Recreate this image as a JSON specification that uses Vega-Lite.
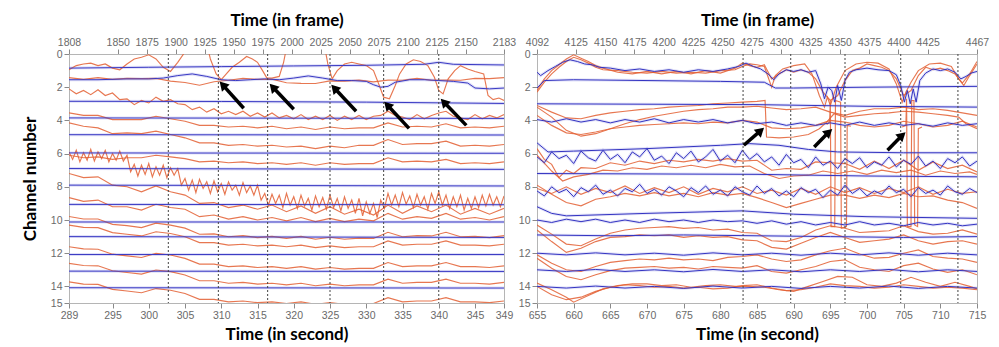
{
"$schema": "https://vega.github.io/schema/vega-lite/v6.json",
"background": "white",
"padding": {"left": 20, "top": 10, "right": 5, "bottom": 2},
"spacing": 33,
"bounds": "flush",
"config": {
 "view": {"stroke": "#b5b5b5"},
 "axis": {"labelFont": "Liberation Sans", "labelFontSize": 10.5, "labelColor": "#6a6a6a", "tickColor": "#8a8a8a", "domainColor": "#b5b5b5", "grid": false, "titleFont": "Lato", "titleFontWeight": "bold", "titleFontSize": 17, "titleColor": "#000000", "tickSize": 5, "labelPadding": 2, "labelOverlap": false, "labelFlush": false}
},
"datasets": {
"lf": [{"f": 1808}, {"f": 2183}],
"rf": [{"f": 4092}, {"f": 4467}],
"ld": [{"t": 302.7}, {"t": 309.6}, {"t": 316.4}, {"t": 325.0}, {"t": 332.4}, {"t": 340.0}],
"rd": [{"t": 683.1}, {"t": 689.6}, {"t": 697.0}, {"t": 704.6}, {"t": 712.4}],
"la": [
 {"t1": 313.1, "c1": 3.27, "t2": 310.2, "c2": 1.86},
 {"t1": 320.0, "c1": 3.33, "t2": 317.1, "c2": 1.99},
 {"t1": 328.6, "c1": 3.45, "t2": 325.6, "c2": 2.05},
 {"t1": 335.9, "c1": 4.48, "t2": 332.9, "c2": 3.07},
 {"t1": 343.8, "c1": 4.30, "t2": 340.7, "c2": 2.89}
],
"ra": [
 {"t1": 683.2, "c1": 5.5, "t2": 685.5, "c2": 4.62},
 {"t1": 692.8, "c1": 5.6, "t2": 694.8, "c2": 4.7},
 {"t1": 702.8, "c1": 5.8, "t2": 704.8, "c2": 4.9}
],
"lb": [
 {"s":"B1","t":289,"c":0.85},{"s":"B1","t":300,"c":0.8},{"s":"B1","t":310,"c":0.76},{"s":"B1","t":320,"c":0.72},{"s":"B1","t":330,"c":0.68},{"s":"B1","t":338,"c":0.62},{"s":"B1","t":340,"c":0.5},{"s":"B1","t":342,"c":0.62},{"s":"B1","t":349,"c":0.66},
 {"s":"B2","t":289,"c":1.55},{"s":"B2","t":293,"c":1.55},{"s":"B2","t":297,"c":1.5},{"s":"B2","t":300,"c":1.5},{"s":"B2","t":302,"c":1.45},{"s":"B2","t":304,"c":1.3},{"s":"B2","t":306,"c":1.2},{"s":"B2","t":308,"c":1.35},{"s":"B2","t":310,"c":1.55},{"s":"B2","t":312,"c":1.6},{"s":"B2","t":314,"c":1.55},{"s":"B2","t":316,"c":1.5},{"s":"B2","t":318,"c":1.55},{"s":"B2","t":320,"c":1.45},{"s":"B2","t":322,"c":1.32},{"s":"B2","t":324,"c":1.45},{"s":"B2","t":326,"c":1.6},{"s":"B2","t":328,"c":1.6},{"s":"B2","t":330,"c":1.65},{"s":"B2","t":331,"c":1.85},{"s":"B2","t":332,"c":2.0},{"s":"B2","t":333,"c":1.95},{"s":"B2","t":334,"c":1.7},{"s":"B2","t":336,"c":1.55},{"s":"B2","t":338,"c":1.55},{"s":"B2","t":340,"c":1.6},{"s":"B2","t":342,"c":1.65},{"s":"B2","t":344,"c":1.75},{"s":"B2","t":345,"c":2.05},{"s":"B2","t":347,"c":2.1},{"s":"B2","t":349,"c":2.05},
 {"s":"B3","t":289,"c":2.85},{"s":"B3","t":310,"c":2.86},{"s":"B3","t":330,"c":2.9},{"s":"B3","t":349,"c":2.98},
 {"s":"B4","t":289,"c":3.85},{"s":"B4","t":349,"c":3.88},
 {"s":"B5","t":289,"c":4.86},{"s":"B5","t":349,"c":4.88},
 {"s":"B6","t":289,"c":5.96},{"s":"B6","t":349,"c":5.98},
 {"s":"B7","t":289,"c":6.9},{"s":"B7","t":349,"c":6.95},
 {"s":"B8","t":289,"c":7.9},{"s":"B8","t":349,"c":7.95},
 {"s":"B9","t":289,"c":9.06},{"s":"B9","t":349,"c":9.08},
 {"s":"B10","t":289,"c":10.12},{"s":"B10","t":349,"c":10.12},
 {"s":"B11","t":289,"c":11.0},{"s":"B11","t":349,"c":11.05},
 {"s":"B12","t":289,"c":12.08},{"s":"B12","t":349,"c":12.08},
 {"s":"B13","t":289,"c":13.08},{"s":"B13","t":349,"c":13.1},
 {"s":"B14","t":289,"c":14.08},{"s":"B14","t":349,"c":14.1}
],
"lr": [
 {"s":"a","t":289,"c":0.95},{"s":"a","t":290,"c":0.7},{"s":"a","t":291,"c":0.6},{"s":"a","t":292,"c":0.55},{"s":"a","t":293,"c":0.7},{"s":"a","t":294,"c":0.6},{"s":"a","t":295,"c":0.85},{"s":"a","t":296,"c":0.95},{"s":"a","t":297,"c":0.6},{"s":"a","t":298,"c":0.3},{"s":"a","t":299,"c":0.2},{"s":"a","t":300,"c":0.05},{"s":"a","t":301,"c":0.3},{"s":"a","t":302,"c":0.8},{"s":"a","t":303,"c":1.05},{"s":"a","t":304,"c":0.5},{"s":"a","t":304.8,"c":0.0},{"s":"a","t":305.3,"c":-0.6},{"s":"a","t":308,"c":-0.6},{"s":"a","t":308.5,"c":0.3},{"s":"a","t":309.3,"c":1.2},{"s":"a","t":310,"c":1.55},{"s":"a","t":310.7,"c":1.2},{"s":"a","t":311.5,"c":0.8},{"s":"a","t":312.5,"c":0.5},{"s":"a","t":313.5,"c":0.15},{"s":"a","t":314.3,"c":0.3},{"s":"a","t":315,"c":0.5},{"s":"a","t":315.7,"c":1.0},{"s":"a","t":316.3,"c":1.45},{"s":"a","t":317,"c":1.45},{"s":"a","t":318,"c":1.35},{"s":"a","t":318.6,"c":0.5},{"s":"a","t":319.1,"c":-0.6},{"s":"a","t":324.2,"c":-0.6},{"s":"a","t":324.7,"c":0.6},{"s":"a","t":325.3,"c":1.5},{"s":"a","t":326,"c":1.0},{"s":"a","t":327,"c":0.6},{"s":"a","t":328,"c":0.5},{"s":"a","t":329,"c":0.6},{"s":"a","t":330,"c":0.7},{"s":"a","t":331,"c":1.0},{"s":"a","t":331.8,"c":1.9},{"s":"a","t":332.4,"c":2.6},{"s":"a","t":333.2,"c":2.7},{"s":"a","t":334,"c":1.9},{"s":"a","t":334.6,"c":1.2},{"s":"a","t":335.5,"c":0.6},{"s":"a","t":336.5,"c":0.35},{"s":"a","t":337.5,"c":0.45},{"s":"a","t":338.5,"c":0.7},{"s":"a","t":339.4,"c":1.4},{"s":"a","t":340,"c":2.2},{"s":"a","t":340.6,"c":2.4},{"s":"a","t":341.3,"c":1.5},{"s":"a","t":342.2,"c":1.0},{"s":"a","t":343,"c":0.7},{"s":"a","t":344,"c":0.9},{"s":"a","t":345,"c":1.05},{"s":"a","t":346.2,"c":1.2},{"s":"a","t":346.8,"c":2.5},{"s":"a","t":347.5,"c":2.75},{"s":"a","t":348.3,"c":2.65},{"s":"a","t":349,"c":2.8},
 {"s":"b","t":289,"c":1.42},{"s":"b","t":291,"c":1.53},{"s":"b","t":293,"c":1.42},{"s":"b","t":295,"c":1.53},{"s":"b","t":297,"c":1.47},{"s":"b","t":299,"c":1.48},{"s":"b","t":301,"c":1.47},{"s":"b","t":303,"c":1.63},{"s":"b","t":305,"c":1.72},{"s":"b","t":307,"c":1.88},{"s":"b","t":309,"c":1.67},{"s":"b","t":311,"c":1.58},{"s":"b","t":313,"c":1.47},{"s":"b","t":315,"c":1.53},{"s":"b","t":317,"c":1.52},{"s":"b","t":319,"c":1.73},{"s":"b","t":321,"c":1.77},{"s":"b","t":323,"c":1.78},{"s":"b","t":325,"c":1.62},{"s":"b","t":327,"c":1.63},{"s":"b","t":329,"c":1.57},{"s":"b","t":331,"c":1.68},{"s":"b","t":333,"c":1.57},{"s":"b","t":335,"c":1.58},{"s":"b","t":337,"c":1.47},{"s":"b","t":339,"c":1.58},{"s":"b","t":341,"c":1.57},{"s":"b","t":343,"c":1.58},{"s":"b","t":345,"c":1.47},{"s":"b","t":347,"c":1.48},{"s":"b","t":349,"c":1.42},
 {"s":"c","t":289,"c":2.1},{"s":"c","t":290,"c":2.4},{"s":"c","t":291,"c":2.2},{"s":"c","t":292,"c":2.45},{"s":"c","t":293,"c":2.15},{"s":"c","t":294,"c":2.5},{"s":"c","t":295,"c":2.35},{"s":"c","t":296,"c":2.75},{"s":"c","t":297,"c":2.7},{"s":"c","t":298,"c":3.05},{"s":"c","t":299,"c":2.8},{"s":"c","t":300,"c":2.95},{"s":"c","t":301,"c":2.6},{"s":"c","t":302,"c":2.85},{"s":"c","t":303,"c":2.75},{"s":"c","t":304,"c":3.0},{"s":"c","t":305,"c":3.05},{"s":"c","t":306,"c":3.35},{"s":"c","t":307,"c":3.2},{"s":"c","t":308,"c":3.5},{"s":"c","t":309,"c":3.3},{"s":"c","t":310,"c":3.6},{"s":"c","t":311,"c":3.45},{"s":"c","t":312,"c":3.65},{"s":"c","t":313,"c":3.45},{"s":"c","t":314,"c":3.75},{"s":"c","t":315,"c":3.55},{"s":"c","t":316,"c":3.8},{"s":"c","t":317,"c":3.55},{"s":"c","t":318,"c":3.85},{"s":"c","t":319,"c":3.7},{"s":"c","t":320,"c":3.9},{"s":"c","t":321,"c":3.65},{"s":"c","t":322,"c":3.95},{"s":"c","t":323,"c":3.75},{"s":"c","t":324,"c":3.95},{"s":"c","t":325,"c":3.7},{"s":"c","t":326,"c":4.0},{"s":"c","t":327,"c":3.75},{"s":"c","t":328,"c":3.95},{"s":"c","t":329,"c":3.7},{"s":"c","t":330,"c":3.95},{"s":"c","t":331,"c":3.75},{"s":"c","t":332,"c":3.7},{"s":"c","t":333,"c":3.45},{"s":"c","t":334,"c":3.7},{"s":"c","t":335,"c":3.8},{"s":"c","t":336,"c":3.95},{"s":"c","t":337,"c":3.65},{"s":"c","t":338,"c":3.9},{"s":"c","t":339,"c":3.7},{"s":"c","t":340,"c":3.55},{"s":"c","t":341,"c":3.45},{"s":"c","t":342,"c":3.75},{"s":"c","t":343,"c":3.85},{"s":"c","t":344,"c":3.95},{"s":"c","t":345,"c":3.65},{"s":"c","t":346,"c":3.9},{"s":"c","t":347,"c":3.7},{"s":"c","t":348,"c":3.85},{"s":"c","t":349,"c":3.65},
 {"s":"d","t":289,"c":3.55},{"s":"d","t":291,"c":3.7},{"s":"d","t":293,"c":3.7},{"s":"d","t":295,"c":3.95},{"s":"d","t":297,"c":3.95},{"s":"d","t":299,"c":3.95},{"s":"d","t":301,"c":3.75},{"s":"d","t":303,"c":3.9},{"s":"d","t":305,"c":4.05},{"s":"d","t":307,"c":4.3},{"s":"d","t":309,"c":4.3},{"s":"d","t":311,"c":4.4},{"s":"d","t":313,"c":4.35},{"s":"d","t":315,"c":4.45},{"s":"d","t":317,"c":4.35},{"s":"d","t":319,"c":4.5},{"s":"d","t":321,"c":4.4},{"s":"d","t":323,"c":4.55},{"s":"d","t":325,"c":4.4},{"s":"d","t":327,"c":4.5},{"s":"d","t":329,"c":4.45},{"s":"d","t":331,"c":4.45},{"s":"d","t":333,"c":4.15},{"s":"d","t":335,"c":4.4},{"s":"d","t":337,"c":4.35},{"s":"d","t":339,"c":4.4},{"s":"d","t":341,"c":4.2},{"s":"d","t":343,"c":4.45},{"s":"d","t":345,"c":4.4},{"s":"d","t":347,"c":4.45},{"s":"d","t":349,"c":4.35},
 {"s":"e","t":289,"c":4.15},{"s":"e","t":291,"c":4.35},{"s":"e","t":293,"c":4.45},{"s":"e","t":295,"c":4.8},{"s":"e","t":297,"c":4.75},{"s":"e","t":299,"c":4.8},{"s":"e","t":301,"c":4.65},{"s":"e","t":303,"c":4.85},{"s":"e","t":305,"c":5.05},{"s":"e","t":307,"c":5.35},{"s":"e","t":309,"c":5.35},{"s":"e","t":311,"c":5.5},{"s":"e","t":313,"c":5.45},{"s":"e","t":315,"c":5.55},{"s":"e","t":317,"c":5.5},{"s":"e","t":319,"c":5.6},{"s":"e","t":321,"c":5.55},{"s":"e","t":323,"c":5.7},{"s":"e","t":325,"c":5.55},{"s":"e","t":327,"c":5.65},{"s":"e","t":329,"c":5.5},{"s":"e","t":331,"c":5.5},{"s":"e","t":333,"c":5.15},{"s":"e","t":335,"c":5.45},{"s":"e","t":337,"c":5.4},{"s":"e","t":339,"c":5.4},{"s":"e","t":341,"c":5.25},{"s":"e","t":343,"c":5.55},{"s":"e","t":345,"c":5.5},{"s":"e","t":347,"c":5.55},{"s":"e","t":349,"c":5.45},
 {"s":"f","t":289,"c":5.9},{"s":"f","t":289.5,"c":6.35},{"s":"f","t":290,"c":5.8},{"s":"f","t":290.5,"c":6.5},{"s":"f","t":291,"c":5.95},{"s":"f","t":291.5,"c":6.4},{"s":"f","t":292,"c":5.75},{"s":"f","t":292.5,"c":6.45},{"s":"f","t":293,"c":5.9},{"s":"f","t":293.5,"c":6.3},{"s":"f","t":294,"c":5.8},{"s":"f","t":294.5,"c":6.5},{"s":"f","t":295,"c":6.0},{"s":"f","t":295.5,"c":6.4},{"s":"f","t":296,"c":5.85},{"s":"f","t":296.5,"c":6.45},{"s":"f","t":297,"c":6.1},{"s":"f","t":297.5,"c":7.1},{"s":"f","t":298,"c":6.65},{"s":"f","t":298.5,"c":7.35},{"s":"f","t":299,"c":6.7},{"s":"f","t":299.5,"c":7.25},{"s":"f","t":300,"c":6.6},{"s":"f","t":300.5,"c":7.4},{"s":"f","t":301,"c":6.8},{"s":"f","t":301.5,"c":7.3},{"s":"f","t":302,"c":6.7},{"s":"f","t":302.5,"c":7.45},{"s":"f","t":303,"c":6.85},{"s":"f","t":303.5,"c":7.3},{"s":"f","t":304,"c":6.9},{"s":"f","t":304.5,"c":7.9},{"s":"f","t":305,"c":7.5},{"s":"f","t":305.5,"c":8.2},{"s":"f","t":306,"c":7.6},{"s":"f","t":306.5,"c":8.35},{"s":"f","t":307,"c":7.55},{"s":"f","t":307.5,"c":8.1},{"s":"f","t":308,"c":7.7},{"s":"f","t":308.5,"c":8.4},{"s":"f","t":309,"c":7.65},{"s":"f","t":309.5,"c":8.3},{"s":"f","t":310,"c":7.8},{"s":"f","t":310.5,"c":8.45},{"s":"f","t":311,"c":7.7},{"s":"f","t":311.5,"c":8.2},{"s":"f","t":312,"c":7.9},{"s":"f","t":312.5,"c":8.5},{"s":"f","t":313,"c":7.75},{"s":"f","t":313.5,"c":8.35},{"s":"f","t":314,"c":7.95},{"s":"f","t":314.5,"c":8.5},{"s":"f","t":315,"c":7.9},{"s":"f","t":315.5,"c":8.8},{"s":"f","t":316,"c":8.4},{"s":"f","t":316.5,"c":9.1},{"s":"f","t":317,"c":8.45},{"s":"f","t":317.5,"c":9.0},{"s":"f","t":318,"c":8.5},{"s":"f","t":318.5,"c":9.25},{"s":"f","t":319,"c":8.4},{"s":"f","t":319.5,"c":9.1},{"s":"f","t":320,"c":8.6},{"s":"f","t":320.5,"c":9.3},{"s":"f","t":321,"c":8.5},{"s":"f","t":321.5,"c":9.15},{"s":"f","t":322,"c":8.7},{"s":"f","t":322.5,"c":9.4},{"s":"f","t":323,"c":8.55},{"s":"f","t":323.5,"c":9.2},{"s":"f","t":324,"c":8.65},{"s":"f","t":324.5,"c":9.35},{"s":"f","t":325,"c":8.5},{"s":"f","t":325.5,"c":9.25},{"s":"f","t":326,"c":8.7},{"s":"f","t":326.5,"c":9.45},{"s":"f","t":327,"c":8.6},{"s":"f","t":327.5,"c":9.3},{"s":"f","t":328,"c":8.8},{"s":"f","t":328.5,"c":9.6},{"s":"f","t":329,"c":8.7},{"s":"f","t":329.5,"c":9.75},{"s":"f","t":330,"c":8.9},{"s":"f","t":330.5,"c":9.6},{"s":"f","t":331,"c":9.0},{"s":"f","t":331.5,"c":9.85},{"s":"f","t":332,"c":8.8},{"s":"f","t":332.5,"c":9.3},{"s":"f","t":333,"c":8.4},{"s":"f","t":333.5,"c":9.1},{"s":"f","t":334,"c":8.5},{"s":"f","t":334.5,"c":9.2},{"s":"f","t":335,"c":8.35},{"s":"f","t":335.5,"c":9.05},{"s":"f","t":336,"c":8.55},{"s":"f","t":336.5,"c":9.25},{"s":"f","t":337,"c":8.45},{"s":"f","t":337.5,"c":9.1},{"s":"f","t":338,"c":8.6},{"s":"f","t":338.5,"c":9.35},{"s":"f","t":339,"c":8.4},{"s":"f","t":339.5,"c":9.0},{"s":"f","t":340,"c":8.3},{"s":"f","t":340.5,"c":9.1},{"s":"f","t":341,"c":8.5},{"s":"f","t":341.5,"c":9.3},{"s":"f","t":342,"c":8.6},{"s":"f","t":342.5,"c":9.2},{"s":"f","t":343,"c":8.5},{"s":"f","t":343.5,"c":9.4},{"s":"f","t":344,"c":8.7},{"s":"f","t":344.5,"c":9.3},{"s":"f","t":345,"c":8.6},{"s":"f","t":345.5,"c":9.25},{"s":"f","t":346,"c":8.5},{"s":"f","t":346.5,"c":9.15},{"s":"f","t":347,"c":8.45},{"s":"f","t":347.5,"c":9.1},{"s":"f","t":348,"c":8.6},{"s":"f","t":348.5,"c":9.2},{"s":"f","t":349,"c":8.55},
 {"s":"g","t":289,"c":7.2},{"s":"g","t":291,"c":7.45},{"s":"g","t":293,"c":7.4},{"s":"g","t":295,"c":7.9},{"s":"g","t":297,"c":8.0},{"s":"g","t":299,"c":8.3},{"s":"g","t":301,"c":7.95},{"s":"g","t":303,"c":8.3},{"s":"g","t":305,"c":8.5},{"s":"g","t":307,"c":9.0},{"s":"g","t":309,"c":8.95},{"s":"g","t":311,"c":9.25},{"s":"g","t":313,"c":9.1},{"s":"g","t":315,"c":9.35},{"s":"g","t":317,"c":9.1},{"s":"g","t":319,"c":9.5},{"s":"g","t":321,"c":9.15},{"s":"g","t":323,"c":9.6},{"s":"g","t":325,"c":9.2},{"s":"g","t":327,"c":9.65},{"s":"g","t":329,"c":9.35},{"s":"g","t":331,"c":9.7},{"s":"g","t":333,"c":9.1},{"s":"g","t":335,"c":9.6},{"s":"g","t":337,"c":9.15},{"s":"g","t":339,"c":9.5},{"s":"g","t":341,"c":9.1},{"s":"g","t":343,"c":9.65},{"s":"g","t":345,"c":9.3},{"s":"g","t":347,"c":9.65},{"s":"g","t":349,"c":9.3},
 {"s":"h","t":289,"c":6.1},{"s":"h","t":291,"c":6.25},{"s":"h","t":293,"c":6.2},{"s":"h","t":295,"c":6.35},{"s":"h","t":297,"c":6.25},{"s":"h","t":299,"c":6.25},{"s":"h","t":301,"c":6.1},{"s":"h","t":303,"c":6.2},{"s":"h","t":305,"c":6.3},{"s":"h","t":307,"c":6.5},{"s":"h","t":309,"c":6.45},{"s":"h","t":311,"c":6.55},{"s":"h","t":313,"c":6.5},{"s":"h","t":315,"c":6.6},{"s":"h","t":317,"c":6.55},{"s":"h","t":319,"c":6.65},{"s":"h","t":321,"c":6.55},{"s":"h","t":323,"c":6.7},{"s":"h","t":325,"c":6.55},{"s":"h","t":327,"c":6.65},{"s":"h","t":329,"c":6.6},{"s":"h","t":331,"c":6.6},{"s":"h","t":333,"c":6.25},{"s":"h","t":335,"c":6.5},{"s":"h","t":337,"c":6.45},{"s":"h","t":339,"c":6.5},{"s":"h","t":341,"c":6.35},{"s":"h","t":343,"c":6.6},{"s":"h","t":345,"c":6.55},{"s":"h","t":347,"c":6.6},{"s":"h","t":349,"c":6.5},
 {"s":"o","t":289,"c":8.65},{"s":"o","t":291,"c":8.88},{"s":"o","t":293,"c":8.8},{"s":"o","t":295,"c":9.2},{"s":"o","t":297,"c":9.2},{"s":"o","t":299,"c":9.4},{"s":"o","t":301,"c":9.05},{"s":"o","t":303,"c":9.25},{"s":"o","t":305,"c":9.35},{"s":"o","t":307,"c":9.8},{"s":"o","t":309,"c":9.7},{"s":"o","t":311,"c":9.95},{"s":"o","t":313,"c":9.8},{"s":"o","t":315,"c":10.0},{"s":"o","t":317,"c":9.85},{"s":"o","t":319,"c":10.05},{"s":"o","t":321,"c":9.85},{"s":"o","t":323,"c":10.1},{"s":"o","t":325,"c":9.9},{"s":"o","t":327,"c":10.1},{"s":"o","t":329,"c":9.95},{"s":"o","t":331,"c":10.05},{"s":"o","t":333,"c":9.6},{"s":"o","t":335,"c":9.95},{"s":"o","t":337,"c":9.8},{"s":"o","t":339,"c":9.9},{"s":"o","t":341,"c":9.6},{"s":"o","t":343,"c":9.95},{"s":"o","t":345,"c":9.85},{"s":"o","t":347,"c":10.0},{"s":"o","t":349,"c":9.8},
 {"s":"i","t":289,"c":9.79},{"s":"i","t":291,"c":9.94},{"s":"i","t":293,"c":9.94},{"s":"i","t":295,"c":10.26},{"s":"i","t":297,"c":10.34},{"s":"i","t":299,"c":10.46},{"s":"i","t":301,"c":10.19},{"s":"i","t":303,"c":10.31},{"s":"i","t":305,"c":10.49},{"s":"i","t":307,"c":10.86},{"s":"i","t":309,"c":10.84},{"s":"i","t":311,"c":11.01},{"s":"i","t":313,"c":10.94},{"s":"i","t":315,"c":11.06},{"s":"i","t":317,"c":10.99},{"s":"i","t":319,"c":11.11},{"s":"i","t":321,"c":10.99},{"s":"i","t":323,"c":11.16},{"s":"i","t":325,"c":11.04},{"s":"i","t":327,"c":11.16},{"s":"i","t":329,"c":11.09},{"s":"i","t":331,"c":11.11},{"s":"i","t":333,"c":10.74},{"s":"i","t":335,"c":11.01},{"s":"i","t":337,"c":10.94},{"s":"i","t":339,"c":10.96},{"s":"i","t":341,"c":10.74},{"s":"i","t":343,"c":11.01},{"s":"i","t":345,"c":10.99},{"s":"i","t":347,"c":11.06},{"s":"i","t":349,"c":10.94},
 {"s":"j","t":289,"c":10.31},{"s":"j","t":291,"c":10.44},{"s":"j","t":293,"c":10.46},{"s":"j","t":295,"c":10.76},{"s":"j","t":297,"c":10.86},{"s":"j","t":299,"c":10.96},{"s":"j","t":301,"c":10.71},{"s":"j","t":303,"c":10.81},{"s":"j","t":305,"c":11.01},{"s":"j","t":307,"c":11.36},{"s":"j","t":309,"c":11.36},{"s":"j","t":311,"c":11.51},{"s":"j","t":313,"c":11.46},{"s":"j","t":315,"c":11.56},{"s":"j","t":317,"c":11.51},{"s":"j","t":319,"c":11.61},{"s":"j","t":321,"c":11.51},{"s":"j","t":323,"c":11.66},{"s":"j","t":325,"c":11.56},{"s":"j","t":327,"c":11.66},{"s":"j","t":329,"c":11.61},{"s":"j","t":331,"c":11.61},{"s":"j","t":333,"c":11.26},{"s":"j","t":335,"c":11.51},{"s":"j","t":337,"c":11.46},{"s":"j","t":339,"c":11.46},{"s":"j","t":341,"c":11.26},{"s":"j","t":343,"c":11.51},{"s":"j","t":345,"c":11.51},{"s":"j","t":347,"c":11.56},{"s":"j","t":349,"c":11.46},
 {"s":"l","t":289,"c":11.61},{"s":"l","t":291,"c":11.74},{"s":"l","t":293,"c":11.76},{"s":"l","t":295,"c":12.06},{"s":"l","t":297,"c":12.16},{"s":"l","t":299,"c":12.26},{"s":"l","t":301,"c":12.01},{"s":"l","t":303,"c":12.11},{"s":"l","t":305,"c":12.31},{"s":"l","t":307,"c":12.66},{"s":"l","t":309,"c":12.66},{"s":"l","t":311,"c":12.81},{"s":"l","t":313,"c":12.76},{"s":"l","t":315,"c":12.86},{"s":"l","t":317,"c":12.81},{"s":"l","t":319,"c":12.91},{"s":"l","t":321,"c":12.81},{"s":"l","t":323,"c":12.96},{"s":"l","t":325,"c":12.86},{"s":"l","t":327,"c":12.96},{"s":"l","t":329,"c":12.91},{"s":"l","t":331,"c":12.91},{"s":"l","t":333,"c":12.56},{"s":"l","t":335,"c":12.81},{"s":"l","t":337,"c":12.76},{"s":"l","t":339,"c":12.76},{"s":"l","t":341,"c":12.56},{"s":"l","t":343,"c":12.81},{"s":"l","t":345,"c":12.81},{"s":"l","t":347,"c":12.86},{"s":"l","t":349,"c":12.76},
 {"s":"m","t":289,"c":12.61},{"s":"m","t":291,"c":12.74},{"s":"m","t":293,"c":12.76},{"s":"m","t":295,"c":13.06},{"s":"m","t":297,"c":13.16},{"s":"m","t":299,"c":13.26},{"s":"m","t":301,"c":13.01},{"s":"m","t":303,"c":13.11},{"s":"m","t":305,"c":13.31},{"s":"m","t":307,"c":13.66},{"s":"m","t":309,"c":13.66},{"s":"m","t":311,"c":13.81},{"s":"m","t":313,"c":13.76},{"s":"m","t":315,"c":13.86},{"s":"m","t":317,"c":13.81},{"s":"m","t":319,"c":13.91},{"s":"m","t":321,"c":13.81},{"s":"m","t":323,"c":13.96},{"s":"m","t":325,"c":13.86},{"s":"m","t":327,"c":13.96},{"s":"m","t":329,"c":13.91},{"s":"m","t":331,"c":13.91},{"s":"m","t":333,"c":13.56},{"s":"m","t":335,"c":13.81},{"s":"m","t":337,"c":13.76},{"s":"m","t":339,"c":13.76},{"s":"m","t":341,"c":13.56},{"s":"m","t":343,"c":13.81},{"s":"m","t":345,"c":13.81},{"s":"m","t":347,"c":13.86},{"s":"m","t":349,"c":13.76},
 {"s":"n","t":289,"c":13.73},{"s":"n","t":291,"c":13.86},{"s":"n","t":293,"c":13.88},{"s":"n","t":295,"c":14.18},{"s":"n","t":297,"c":14.28},{"s":"n","t":299,"c":14.38},{"s":"n","t":301,"c":14.13},{"s":"n","t":303,"c":14.23},{"s":"n","t":305,"c":14.43},{"s":"n","t":307,"c":14.78},{"s":"n","t":309,"c":14.78},{"s":"n","t":311,"c":14.93},{"s":"n","t":313,"c":14.88},{"s":"n","t":315,"c":14.98},{"s":"n","t":317,"c":14.93},{"s":"n","t":319,"c":15.03},{"s":"n","t":321,"c":14.93},{"s":"n","t":323,"c":15.08},{"s":"n","t":325,"c":14.98},{"s":"n","t":327,"c":15.08},{"s":"n","t":329,"c":15.03},{"s":"n","t":331,"c":15.03},{"s":"n","t":333,"c":14.68},{"s":"n","t":335,"c":14.93},{"s":"n","t":337,"c":14.88},{"s":"n","t":339,"c":14.88},{"s":"n","t":341,"c":14.68},{"s":"n","t":343,"c":14.93},{"s":"n","t":345,"c":14.93},{"s":"n","t":347,"c":14.98},{"s":"n","t":349,"c":14.88}
],
"rb": [
 {"s":"P1","t":655,"c":1.1},{"s":"P1","t":655.5,"c":1.3},{"s":"P1","t":656.5,"c":1.0},{"s":"P1","t":657.5,"c":0.75},{"s":"P1","t":658.5,"c":0.5},{"s":"P1","t":659.5,"c":0.35},{"s":"P1","t":660.5,"c":0.45},{"s":"P1","t":661.5,"c":0.6},{"s":"P1","t":662.5,"c":0.65},{"s":"P1","t":663.5,"c":0.8},{"s":"P1","t":665,"c":0.85},{"s":"P1","t":667,"c":1.0},{"s":"P1","t":669,"c":0.9},{"s":"P1","t":671,"c":1.05},{"s":"P1","t":673,"c":0.95},{"s":"P1","t":675,"c":1.1},{"s":"P1","t":677,"c":0.95},{"s":"P1","t":679,"c":1.05},{"s":"P1","t":681,"c":0.9},{"s":"P1","t":682.5,"c":0.75},{"s":"P1","t":683.5,"c":0.55},{"s":"P1","t":684.5,"c":0.75},{"s":"P1","t":685.5,"c":0.9},{"s":"P1","t":686.5,"c":1.2},{"s":"P1","t":687.3,"c":1.55},{"s":"P1","t":688,"c":1.2},{"s":"P1","t":689,"c":0.95},{"s":"P1","t":690,"c":1.05},{"s":"P1","t":691,"c":0.95},{"s":"P1","t":692,"c":1.1},{"s":"P1","t":693,"c":1.0},{"s":"P1","t":693.7,"c":1.8},{"s":"P1","t":694.2,"c":2.7},{"s":"P1","t":694.7,"c":2.0},{"s":"P1","t":695.2,"c":2.2},{"s":"P1","t":695.6,"c":2.9},{"s":"P1","t":696,"c":1.9},{"s":"P1","t":696.5,"c":2.8},{"s":"P1","t":697,"c":1.6},{"s":"P1","t":697.6,"c":1.1},{"s":"P1","t":698.5,"c":0.95},{"s":"P1","t":700,"c":0.85},{"s":"P1","t":701.5,"c":0.95},{"s":"P1","t":703,"c":1.0},{"s":"P1","t":704,"c":1.25},{"s":"P1","t":704.6,"c":1.9},{"s":"P1","t":705.1,"c":2.9},{"s":"P1","t":705.5,"c":2.2},{"s":"P1","t":705.9,"c":3.0},{"s":"P1","t":706.3,"c":2.1},{"s":"P1","t":706.7,"c":2.9},{"s":"P1","t":707.2,"c":1.6},{"s":"P1","t":708,"c":1.15},{"s":"P1","t":709,"c":0.9},{"s":"P1","t":710,"c":1.0},{"s":"P1","t":711,"c":0.9},{"s":"P1","t":712,"c":1.1},{"s":"P1","t":712.8,"c":1.5},{"s":"P1","t":713.5,"c":1.35},{"s":"P1","t":714.2,"c":1.15},{"s":"P1","t":715,"c":1.05},
 {"s":"P2","t":655,"c":2.05},{"s":"P2","t":656,"c":1.6},{"s":"P2","t":660,"c":1.55},{"s":"P2","t":670,"c":1.6},{"s":"P2","t":680,"c":1.65},{"s":"P2","t":686,"c":1.7},{"s":"P2","t":687.5,"c":2.05},{"s":"P2","t":690,"c":2.05},{"s":"P2","t":700,"c":2.0},{"s":"P2","t":715,"c":1.95},
 {"s":"P3","t":655,"c":3.0},{"s":"P3","t":685,"c":3.05},{"s":"P3","t":700,"c":3.15},{"s":"P3","t":715,"c":3.2},
 {"s":"P4","t":655,"c":3.95},{"s":"P4","t":657,"c":4.1},{"s":"P4","t":659,"c":3.9},{"s":"P4","t":661,"c":4.1},{"s":"P4","t":663,"c":3.95},{"s":"P4","t":665,"c":4.15},{"s":"P4","t":667,"c":3.95},{"s":"P4","t":669,"c":4.1},{"s":"P4","t":671,"c":3.9},{"s":"P4","t":673,"c":4.15},{"s":"P4","t":675,"c":3.95},{"s":"P4","t":677,"c":4.1},{"s":"P4","t":679,"c":3.95},{"s":"P4","t":681,"c":4.15},{"s":"P4","t":683,"c":4.0},{"s":"P4","t":685,"c":4.2},{"s":"P4","t":687,"c":4.1},{"s":"P4","t":689,"c":4.3},{"s":"P4","t":691,"c":4.15},{"s":"P4","t":693,"c":4.3},{"s":"P4","t":695,"c":4.15},{"s":"P4","t":697,"c":4.3},{"s":"P4","t":699,"c":4.1},{"s":"P4","t":701,"c":4.3},{"s":"P4","t":703,"c":4.15},{"s":"P4","t":705,"c":4.3},{"s":"P4","t":707,"c":4.2},{"s":"P4","t":709,"c":4.35},{"s":"P4","t":711,"c":4.15},{"s":"P4","t":713,"c":4.3},{"s":"P4","t":715,"c":4.2},
 {"s":"P5","t":655,"c":5.35},{"s":"P5","t":656.5,"c":5.9},{"s":"P5","t":660,"c":5.85},{"s":"P5","t":670,"c":5.7},{"s":"P5","t":680,"c":5.5},{"s":"P5","t":684,"c":5.4},{"s":"P5","t":688,"c":5.5},{"s":"P5","t":692,"c":5.75},{"s":"P5","t":696,"c":5.9},{"s":"P5","t":705,"c":5.95},{"s":"P5","t":715,"c":5.95},
 {"s":"P6","t":655,"c":6.2},{"s":"P6","t":656,"c":6.55},{"s":"P6","t":657,"c":5.9},{"s":"P6","t":658,"c":6.3},{"s":"P6","t":659,"c":6.1},{"s":"P6","t":660,"c":6.6},{"s":"P6","t":661,"c":5.85},{"s":"P6","t":662,"c":6.25},{"s":"P6","t":663,"c":6.45},{"s":"P6","t":664,"c":5.8},{"s":"P6","t":665,"c":6.35},{"s":"P6","t":666,"c":6.05},{"s":"P6","t":667,"c":6.55},{"s":"P6","t":668,"c":5.9},{"s":"P6","t":669,"c":6.2},{"s":"P6","t":670,"c":5.7},{"s":"P6","t":671,"c":6.4},{"s":"P6","t":672,"c":6.15},{"s":"P6","t":673,"c":6.6},{"s":"P6","t":674,"c":5.95},{"s":"P6","t":675,"c":6.3},{"s":"P6","t":676,"c":5.85},{"s":"P6","t":677,"c":6.5},{"s":"P6","t":678,"c":6.2},{"s":"P6","t":679,"c":5.75},{"s":"P6","t":680,"c":6.45},{"s":"P6","t":681,"c":6.1},{"s":"P6","t":682,"c":6.55},{"s":"P6","t":683,"c":5.8},{"s":"P6","t":684,"c":6.35},{"s":"P6","t":685,"c":6.0},{"s":"P6","t":686,"c":6.5},{"s":"P6","t":687,"c":6.2},{"s":"P6","t":688,"c":6.7},{"s":"P6","t":689,"c":6.05},{"s":"P6","t":690,"c":6.55},{"s":"P6","t":691,"c":6.35},{"s":"P6","t":692,"c":6.85},{"s":"P6","t":693,"c":6.2},{"s":"P6","t":694,"c":6.7},{"s":"P6","t":695,"c":6.45},{"s":"P6","t":696,"c":6.9},{"s":"P6","t":697,"c":6.3},{"s":"P6","t":698,"c":6.6},{"s":"P6","t":699,"c":6.25},{"s":"P6","t":700,"c":6.85},{"s":"P6","t":701,"c":6.5},{"s":"P6","t":702,"c":6.7},{"s":"P6","t":703,"c":6.2},{"s":"P6","t":704,"c":6.8},{"s":"P6","t":705,"c":6.4},{"s":"P6","t":706,"c":6.65},{"s":"P6","t":707,"c":6.15},{"s":"P6","t":708,"c":6.75},{"s":"P6","t":709,"c":6.45},{"s":"P6","t":710,"c":6.9},{"s":"P6","t":711,"c":6.3},{"s":"P6","t":712,"c":6.55},{"s":"P6","t":713,"c":6.2},{"s":"P6","t":714,"c":6.75},{"s":"P6","t":715,"c":6.45},
 {"s":"P7","t":655,"c":7.2},{"s":"P7","t":685,"c":7.25},{"s":"P7","t":700,"c":7.35},{"s":"P7","t":715,"c":7.4},
 {"s":"P8","t":655,"c":8.25},{"s":"P8","t":656,"c":8.55},{"s":"P8","t":657,"c":8.0},{"s":"P8","t":658,"c":8.35},{"s":"P8","t":659,"c":8.15},{"s":"P8","t":660,"c":8.6},{"s":"P8","t":661,"c":8.05},{"s":"P8","t":662,"c":8.3},{"s":"P8","t":663,"c":7.9},{"s":"P8","t":664,"c":8.45},{"s":"P8","t":665,"c":8.2},{"s":"P8","t":666,"c":8.55},{"s":"P8","t":667,"c":8.1},{"s":"P8","t":668,"c":8.3},{"s":"P8","t":669,"c":7.85},{"s":"P8","t":670,"c":8.4},{"s":"P8","t":671,"c":8.15},{"s":"P8","t":672,"c":8.5},{"s":"P8","t":673,"c":8.0},{"s":"P8","t":674,"c":8.25},{"s":"P8","t":675,"c":8.6},{"s":"P8","t":676,"c":8.05},{"s":"P8","t":677,"c":8.35},{"s":"P8","t":678,"c":7.95},{"s":"P8","t":679,"c":8.45},{"s":"P8","t":680,"c":8.2},{"s":"P8","t":681,"c":8.55},{"s":"P8","t":682,"c":8.0},{"s":"P8","t":683,"c":8.3},{"s":"P8","t":684,"c":8.5},{"s":"P8","t":685,"c":7.95},{"s":"P8","t":686,"c":8.4},{"s":"P8","t":687,"c":8.1},{"s":"P8","t":688,"c":8.55},{"s":"P8","t":689,"c":8.25},{"s":"P8","t":690,"c":8.6},{"s":"P8","t":691,"c":8.05},{"s":"P8","t":692,"c":8.35},{"s":"P8","t":693,"c":8.15},{"s":"P8","t":694,"c":8.65},{"s":"P8","t":695,"c":8.2},{"s":"P8","t":696,"c":8.5},{"s":"P8","t":697,"c":7.9},{"s":"P8","t":698,"c":8.4},{"s":"P8","t":699,"c":8.1},{"s":"P8","t":700,"c":8.55},{"s":"P8","t":701,"c":8.25},{"s":"P8","t":702,"c":8.45},{"s":"P8","t":703,"c":7.95},{"s":"P8","t":704,"c":8.35},{"s":"P8","t":705,"c":8.15},{"s":"P8","t":706,"c":8.6},{"s":"P8","t":707,"c":8.05},{"s":"P8","t":708,"c":8.4},{"s":"P8","t":709,"c":8.2},{"s":"P8","t":710,"c":8.5},{"s":"P8","t":711,"c":7.95},{"s":"P8","t":712,"c":8.3},{"s":"P8","t":713,"c":8.45},{"s":"P8","t":714,"c":8.1},{"s":"P8","t":715,"c":8.35},
 {"s":"P9","t":655,"c":9.2},{"s":"P9","t":657,"c":9.6},{"s":"P9","t":659,"c":9.75},{"s":"P9","t":670,"c":9.6},{"s":"P9","t":683,"c":9.45},{"s":"P9","t":690,"c":9.65},{"s":"P9","t":700,"c":9.8},{"s":"P9","t":715,"c":9.9},
 {"s":"P10","t":655,"c":10.0},{"s":"P10","t":657,"c":10.15},{"s":"P10","t":659,"c":9.95},{"s":"P10","t":661,"c":10.1},{"s":"P10","t":663,"c":9.95},{"s":"P10","t":665,"c":10.15},{"s":"P10","t":667,"c":10.0},{"s":"P10","t":669,"c":10.15},{"s":"P10","t":671,"c":9.95},{"s":"P10","t":673,"c":10.1},{"s":"P10","t":675,"c":10.0},{"s":"P10","t":677,"c":10.15},{"s":"P10","t":679,"c":10.0},{"s":"P10","t":681,"c":10.1},{"s":"P10","t":683,"c":10.05},{"s":"P10","t":685,"c":10.2},{"s":"P10","t":687,"c":10.05},{"s":"P10","t":689,"c":10.25},{"s":"P10","t":691,"c":10.1},{"s":"P10","t":693,"c":10.3},{"s":"P10","t":695,"c":10.15},{"s":"P10","t":697,"c":10.3},{"s":"P10","t":699,"c":10.1},{"s":"P10","t":701,"c":10.3},{"s":"P10","t":703,"c":10.2},{"s":"P10","t":705,"c":10.35},{"s":"P10","t":707,"c":10.15},{"s":"P10","t":709,"c":10.3},{"s":"P10","t":711,"c":10.2},{"s":"P10","t":713,"c":10.35},{"s":"P10","t":715,"c":10.25},
 {"s":"P11","t":655,"c":10.9},{"s":"P11","t":665,"c":10.95},{"s":"P11","t":675,"c":10.9},{"s":"P11","t":685,"c":10.95},{"s":"P11","t":695,"c":11.0},{"s":"P11","t":705,"c":11.05},{"s":"P11","t":715,"c":11.0},
 {"s":"P12","t":655,"c":12.0},{"s":"P12","t":659,"c":12.1},{"s":"P12","t":663,"c":11.98},{"s":"P12","t":667,"c":12.1},{"s":"P12","t":671,"c":12.0},{"s":"P12","t":675,"c":12.12},{"s":"P12","t":679,"c":11.98},{"s":"P12","t":683,"c":12.1},{"s":"P12","t":687,"c":12.0},{"s":"P12","t":691,"c":12.12},{"s":"P12","t":695,"c":12.0},{"s":"P12","t":699,"c":12.1},{"s":"P12","t":703,"c":11.98},{"s":"P12","t":707,"c":12.12},{"s":"P12","t":711,"c":12.0},{"s":"P12","t":715,"c":12.1},
 {"s":"P13","t":655,"c":13.0},{"s":"P13","t":659,"c":13.1},{"s":"P13","t":663,"c":12.98},{"s":"P13","t":667,"c":13.1},{"s":"P13","t":671,"c":13.0},{"s":"P13","t":675,"c":13.12},{"s":"P13","t":679,"c":12.98},{"s":"P13","t":683,"c":13.1},{"s":"P13","t":687,"c":13.0},{"s":"P13","t":691,"c":13.12},{"s":"P13","t":695,"c":13.0},{"s":"P13","t":699,"c":13.1},{"s":"P13","t":703,"c":12.98},{"s":"P13","t":707,"c":13.12},{"s":"P13","t":711,"c":13.0},{"s":"P13","t":715,"c":13.1},
 {"s":"P14","t":655,"c":14.0},{"s":"P14","t":659,"c":14.1},{"s":"P14","t":663,"c":13.98},{"s":"P14","t":667,"c":14.1},{"s":"P14","t":671,"c":14.0},{"s":"P14","t":675,"c":14.12},{"s":"P14","t":679,"c":13.98},{"s":"P14","t":683,"c":14.1},{"s":"P14","t":687,"c":14.0},{"s":"P14","t":691,"c":14.12},{"s":"P14","t":695,"c":14.0},{"s":"P14","t":699,"c":14.1},{"s":"P14","t":703,"c":13.98},{"s":"P14","t":707,"c":14.12},{"s":"P14","t":711,"c":14.0},{"s":"P14","t":715,"c":14.1}
],
"rr": [
 {"s":"Q1","t":655,"c":2.2},{"s":"Q1","t":656,"c":1.5},{"s":"Q1","t":657,"c":1.0},{"s":"Q1","t":658,"c":0.65},{"s":"Q1","t":659,"c":0.3},{"s":"Q1","t":660,"c":0.05},{"s":"Q1","t":661,"c":0.25},{"s":"Q1","t":662,"c":0.45},{"s":"Q1","t":663,"c":0.7},{"s":"Q1","t":664,"c":0.85},{"s":"Q1","t":666,"c":1.1},{"s":"Q1","t":668,"c":1.2},{"s":"Q1","t":670,"c":1.05},{"s":"Q1","t":672,"c":1.2},{"s":"Q1","t":674,"c":1.05},{"s":"Q1","t":676,"c":1.2},{"s":"Q1","t":678,"c":1.0},{"s":"Q1","t":680,"c":1.15},{"s":"Q1","t":682,"c":0.85},{"s":"Q1","t":683,"c":0.55},{"s":"Q1","t":684,"c":0.7},{"s":"Q1","t":685,"c":0.8},{"s":"Q1","t":686,"c":0.65},{"s":"Q1","t":687,"c":1.5},{"s":"Q1","t":688,"c":1.2},{"s":"Q1","t":689,"c":0.95},{"s":"Q1","t":690,"c":1.1},{"s":"Q1","t":691,"c":0.95},{"s":"Q1","t":692,"c":1.1},{"s":"Q1","t":693,"c":1.5},{"s":"Q1","t":694,"c":2.3},{"s":"Q1","t":695,"c":2.8},{"s":"Q1","t":696,"c":2.5},{"s":"Q1","t":697,"c":1.6},{"s":"Q1","t":698,"c":1.0},{"s":"Q1","t":699,"c":0.85},{"s":"Q1","t":700,"c":0.6},{"s":"Q1","t":701,"c":0.7},{"s":"Q1","t":702,"c":0.8},{"s":"Q1","t":703,"c":1.0},{"s":"Q1","t":704,"c":1.5},{"s":"Q1","t":705,"c":2.5},{"s":"Q1","t":706,"c":2.2},{"s":"Q1","t":707,"c":1.3},{"s":"Q1","t":708,"c":0.8},{"s":"Q1","t":709,"c":0.95},{"s":"Q1","t":710,"c":0.85},{"s":"Q1","t":711,"c":1.0},{"s":"Q1","t":712,"c":1.2},{"s":"Q1","t":713,"c":1.75},{"s":"Q1","t":714,"c":1.2},{"s":"Q1","t":715,"c":0.45},
 {"s":"Q1b","t":655,"c":2.3},{"s":"Q1b","t":656,"c":1.7},{"s":"Q1b","t":657,"c":1.2},{"s":"Q1b","t":658,"c":0.8},{"s":"Q1b","t":659,"c":0.45},{"s":"Q1b","t":660,"c":0.2},{"s":"Q1b","t":661,"c":0.35},{"s":"Q1b","t":662,"c":0.55},{"s":"Q1b","t":663,"c":0.8},{"s":"Q1b","t":664,"c":0.95},{"s":"Q1b","t":666,"c":1.0},{"s":"Q1b","t":668,"c":1.1},{"s":"Q1b","t":670,"c":1.15},{"s":"Q1b","t":672,"c":1.05},{"s":"Q1b","t":674,"c":1.15},{"s":"Q1b","t":676,"c":1.1},{"s":"Q1b","t":678,"c":1.15},{"s":"Q1b","t":680,"c":1.0},{"s":"Q1b","t":682,"c":0.95},{"s":"Q1b","t":683,"c":0.75},{"s":"Q1b","t":684,"c":0.6},{"s":"Q1b","t":685,"c":0.65},{"s":"Q1b","t":686,"c":0.75},{"s":"Q1b","t":687,"c":2.0},{"s":"Q1b","t":687.5,"c":1.3},{"s":"Q1b","t":688.5,"c":0.9},{"s":"Q1b","t":690,"c":0.7},{"s":"Q1b","t":691.5,"c":0.6},{"s":"Q1b","t":692.5,"c":1.2},{"s":"Q1b","t":693.5,"c":2.5},{"s":"Q1b","t":694.2,"c":3.2},{"s":"Q1b","t":694.6,"c":2.6},{"s":"Q1b","t":695,"c":3.1},{"s":"Q1b","t":695.8,"c":2.0},{"s":"Q1b","t":697,"c":1.0},{"s":"Q1b","t":698.5,"c":0.6},{"s":"Q1b","t":700,"c":0.5},{"s":"Q1b","t":701.5,"c":0.55},{"s":"Q1b","t":703,"c":0.9},{"s":"Q1b","t":704,"c":1.8},{"s":"Q1b","t":704.8,"c":2.9},{"s":"Q1b","t":705.3,"c":2.3},{"s":"Q1b","t":706,"c":1.7},{"s":"Q1b","t":707,"c":1.0},{"s":"Q1b","t":708.5,"c":0.6},{"s":"Q1b","t":710,"c":0.55},{"s":"Q1b","t":711.5,"c":0.75},{"s":"Q1b","t":712.5,"c":1.5},{"s":"Q1b","t":713.2,"c":1.9},{"s":"Q1b","t":714,"c":1.3},{"s":"Q1b","t":715,"c":0.6},
 {"s":"Q2","t":655,"c":3.1},{"s":"Q2","t":657,"c":3.5},{"s":"Q2","t":659,"c":3.85},{"s":"Q2","t":661,"c":3.9},{"s":"Q2","t":663,"c":3.7},{"s":"Q2","t":665,"c":3.55},{"s":"Q2","t":667,"c":3.45},{"s":"Q2","t":669,"c":3.35},{"s":"Q2","t":671,"c":3.3},{"s":"Q2","t":673,"c":3.2},{"s":"Q2","t":675,"c":3.15},{"s":"Q2","t":677,"c":3.1},{"s":"Q2","t":679,"c":3.0},{"s":"Q2","t":681,"c":2.95},{"s":"Q2","t":683,"c":2.9},{"s":"Q2","t":685,"c":2.85},{"s":"Q2","t":686.1,"c":2.8},{"s":"Q2","t":686.3,"c":5.0},{"s":"Q2","t":688,"c":5.05},{"s":"Q2","t":690,"c":5.0},{"s":"Q2","t":692,"c":4.85},{"s":"Q2","t":693.5,"c":4.5},{"s":"Q2","t":694.5,"c":4.1},{"s":"Q2","t":695.5,"c":3.6},{"s":"Q2","t":697,"c":3.8},{"s":"Q2","t":699,"c":3.7},{"s":"Q2","t":701,"c":3.6},{"s":"Q2","t":703,"c":3.55},{"s":"Q2","t":705,"c":3.45},{"s":"Q2","t":707,"c":3.5},{"s":"Q2","t":709,"c":3.6},{"s":"Q2","t":711,"c":3.7},{"s":"Q2","t":712.5,"c":3.8},{"s":"Q2","t":713.5,"c":4.2},{"s":"Q2","t":715,"c":4.5},
 {"s":"Q3","t":655,"c":3.2},{"s":"Q3","t":657,"c":3.8},{"s":"Q3","t":659,"c":4.6},{"s":"Q3","t":661,"c":4.95},{"s":"Q3","t":663,"c":4.8},{"s":"Q3","t":665,"c":4.5},{"s":"Q3","t":667,"c":4.2},{"s":"Q3","t":669,"c":3.95},{"s":"Q3","t":671,"c":3.75},{"s":"Q3","t":673,"c":3.6},{"s":"Q3","t":675,"c":3.45},{"s":"Q3","t":677,"c":3.35},{"s":"Q3","t":679,"c":3.3},{"s":"Q3","t":681,"c":3.2},{"s":"Q3","t":683,"c":3.2},{"s":"Q3","t":685,"c":3.15},{"s":"Q3","t":687,"c":3.25},{"s":"Q3","t":689,"c":3.35},{"s":"Q3","t":691,"c":3.3},{"s":"Q3","t":693,"c":3.2},{"s":"Q3","t":695,"c":3.5},{"s":"Q3","t":697,"c":3.7},{"s":"Q3","t":699,"c":3.45},{"s":"Q3","t":701,"c":3.3},{"s":"Q3","t":703,"c":3.3},{"s":"Q3","t":705,"c":3.2},{"s":"Q3","t":707,"c":3.35},{"s":"Q3","t":709,"c":3.3},{"s":"Q3","t":711,"c":3.4},{"s":"Q3","t":713,"c":3.55},{"s":"Q3","t":715,"c":3.7},
 {"s":"Q4","t":655,"c":3.7},{"s":"Q4","t":657,"c":4.3},{"s":"Q4","t":659,"c":4.75},{"s":"Q4","t":661,"c":4.85},{"s":"Q4","t":663,"c":4.7},{"s":"Q4","t":665,"c":4.5},{"s":"Q4","t":667,"c":4.4},{"s":"Q4","t":669,"c":4.3},{"s":"Q4","t":671,"c":4.25},{"s":"Q4","t":673,"c":4.2},{"s":"Q4","t":675,"c":4.15},{"s":"Q4","t":677,"c":4.2},{"s":"Q4","t":679,"c":4.1},{"s":"Q4","t":681,"c":4.15},{"s":"Q4","t":683,"c":4.0},{"s":"Q4","t":685,"c":4.1},{"s":"Q4","t":687,"c":4.45},{"s":"Q4","t":689,"c":4.5},{"s":"Q4","t":691,"c":4.45},{"s":"Q4","t":693,"c":4.3},{"s":"Q4","t":695,"c":4.0},{"s":"Q4","t":697,"c":4.1},{"s":"Q4","t":699,"c":4.3},{"s":"Q4","t":701,"c":4.4},{"s":"Q4","t":703,"c":4.3},{"s":"Q4","t":705,"c":4.05},{"s":"Q4","t":707,"c":4.2},{"s":"Q4","t":709,"c":4.4},{"s":"Q4","t":711,"c":4.3},{"s":"Q4","t":713,"c":4.05},{"s":"Q4","t":715,"c":4.4},
 {"s":"S1","t":694.5,"c":4.25},{"s":"S1","t":694.9,"c":4.1},{"s":"S1","t":695.0,"c":2.8},{"s":"S1","t":695.1,"c":10.4},{"s":"S1","t":695.6,"c":10.4},{"s":"S1","t":695.7,"c":2.8},{"s":"S1","t":696.4,"c":2.9},{"s":"S1","t":696.5,"c":10.5},{"s":"S1","t":697.2,"c":10.4},{"s":"S1","t":697.3,"c":4.3},{"s":"S1","t":697.8,"c":4.35},
 {"s":"S2","t":704.8,"c":4.4},{"s":"S2","t":705.3,"c":4.3},{"s":"S2","t":705.4,"c":2.7},{"s":"S2","t":705.5,"c":10.4},{"s":"S2","t":706.0,"c":10.4},{"s":"S2","t":706.1,"c":2.8},{"s":"S2","t":706.4,"c":2.8},{"s":"S2","t":706.5,"c":10.3},{"s":"S2","t":706.9,"c":10.4},{"s":"S2","t":707.0,"c":4.5},{"s":"S2","t":707.5,"c":4.4},
 {"s":"M1","t":655,"c":5.7},{"s":"M1","t":656,"c":6.35},{"s":"M1","t":657,"c":6.65},{"s":"M1","t":658,"c":7.45},{"s":"M1","t":659,"c":7.0},{"s":"M1","t":660,"c":7.2},{"s":"M1","t":661,"c":6.85},{"s":"M1","t":663,"c":6.9},{"s":"M1","t":665,"c":6.55},{"s":"M1","t":667,"c":6.7},{"s":"M1","t":669,"c":6.45},{"s":"M1","t":671,"c":6.6},{"s":"M1","t":673,"c":6.4},{"s":"M1","t":675,"c":6.5},{"s":"M1","t":677,"c":6.35},{"s":"M1","t":679,"c":6.45},{"s":"M1","t":681,"c":6.3},{"s":"M1","t":683,"c":6.45},{"s":"M1","t":685,"c":6.4},{"s":"M1","t":687,"c":7.0},{"s":"M1","t":689,"c":6.9},{"s":"M1","t":691,"c":6.95},{"s":"M1","t":693,"c":6.5},{"s":"M1","t":695,"c":6.55},{"s":"M1","t":697,"c":6.6},{"s":"M1","t":699,"c":6.95},{"s":"M1","t":701,"c":6.45},{"s":"M1","t":703,"c":6.9},{"s":"M1","t":705,"c":6.4},{"s":"M1","t":707,"c":7.0},{"s":"M1","t":709,"c":6.5},{"s":"M1","t":711,"c":6.9},{"s":"M1","t":713,"c":6.7},{"s":"M1","t":715,"c":7.1},
 {"s":"M2","t":655,"c":6.1},{"s":"M2","t":657,"c":7.05},{"s":"M2","t":658.5,"c":7.65},{"s":"M2","t":660,"c":7.4},{"s":"M2","t":662,"c":7.25},{"s":"M2","t":664,"c":7.0},{"s":"M2","t":666,"c":7.05},{"s":"M2","t":668,"c":6.85},{"s":"M2","t":670,"c":6.95},{"s":"M2","t":672,"c":6.75},{"s":"M2","t":674,"c":6.85},{"s":"M2","t":676,"c":6.7},{"s":"M2","t":678,"c":6.85},{"s":"M2","t":680,"c":6.65},{"s":"M2","t":682,"c":6.8},{"s":"M2","t":684,"c":6.75},{"s":"M2","t":686,"c":7.2},{"s":"M2","t":688,"c":7.5},{"s":"M2","t":690,"c":7.35},{"s":"M2","t":692,"c":7.3},{"s":"M2","t":694,"c":7.05},{"s":"M2","t":696,"c":7.2},{"s":"M2","t":698,"c":7.05},{"s":"M2","t":700,"c":7.25},{"s":"M2","t":702,"c":7.0},{"s":"M2","t":704,"c":7.15},{"s":"M2","t":706,"c":7.0},{"s":"M2","t":708,"c":7.3},{"s":"M2","t":710,"c":7.05},{"s":"M2","t":712,"c":7.2},{"s":"M2","t":714,"c":7.1},{"s":"M2","t":715,"c":7.25},
 {"s":"M3","t":655,"c":7.9},{"s":"M3","t":657,"c":8.45},{"s":"M3","t":659,"c":8.95},{"s":"M3","t":661,"c":9.15},{"s":"M3","t":663,"c":8.75},{"s":"M3","t":665,"c":8.6},{"s":"M3","t":667,"c":8.4},{"s":"M3","t":669,"c":8.55},{"s":"M3","t":671,"c":8.35},{"s":"M3","t":673,"c":8.55},{"s":"M3","t":675,"c":8.4},{"s":"M3","t":677,"c":8.6},{"s":"M3","t":679,"c":8.35},{"s":"M3","t":681,"c":8.5},{"s":"M3","t":683,"c":8.4},{"s":"M3","t":685,"c":8.65},{"s":"M3","t":687,"c":8.95},{"s":"M3","t":689,"c":9.25},{"s":"M3","t":691,"c":9.0},{"s":"M3","t":693,"c":8.75},{"s":"M3","t":695,"c":8.5},{"s":"M3","t":697,"c":8.5},{"s":"M3","t":699,"c":8.7},{"s":"M3","t":701,"c":8.5},{"s":"M3","t":703,"c":8.65},{"s":"M3","t":705,"c":8.4},{"s":"M3","t":707,"c":8.6},{"s":"M3","t":709,"c":8.55},{"s":"M3","t":711,"c":8.8},{"s":"M3","t":713,"c":8.95},{"s":"M3","t":715,"c":9.3},
 {"s":"M4","t":655,"c":8.1},{"s":"M4","t":657,"c":8.4},{"s":"M4","t":659,"c":8.0},{"s":"M4","t":661,"c":8.45},{"s":"M4","t":663,"c":8.1},{"s":"M4","t":665,"c":8.35},{"s":"M4","t":667,"c":7.95},{"s":"M4","t":669,"c":8.4},{"s":"M4","t":671,"c":8.05},{"s":"M4","t":673,"c":8.35},{"s":"M4","t":675,"c":8.0},{"s":"M4","t":677,"c":8.45},{"s":"M4","t":679,"c":8.1},{"s":"M4","t":681,"c":8.3},{"s":"M4","t":683,"c":8.0},{"s":"M4","t":685,"c":8.4},{"s":"M4","t":687,"c":8.2},{"s":"M4","t":689,"c":8.5},{"s":"M4","t":691,"c":8.1},{"s":"M4","t":693,"c":8.45},{"s":"M4","t":695,"c":8.0},{"s":"M4","t":697,"c":8.35},{"s":"M4","t":699,"c":8.05},{"s":"M4","t":701,"c":8.4},{"s":"M4","t":703,"c":8.1},{"s":"M4","t":705,"c":8.35},{"s":"M4","t":707,"c":8.0},{"s":"M4","t":709,"c":8.45},{"s":"M4","t":711,"c":8.15},{"s":"M4","t":713,"c":8.4},{"s":"M4","t":715,"c":8.3},
 {"s":"U1","t":655,"c":10.3},{"s":"U1","t":657,"c":10.85},{"s":"U1","t":659,"c":11.45},{"s":"U1","t":661,"c":11.55},{"s":"U1","t":663,"c":11.15},{"s":"U1","t":665,"c":10.8},{"s":"U1","t":667,"c":10.6},{"s":"U1","t":669,"c":10.5},{"s":"U1","t":671,"c":10.45},{"s":"U1","t":673,"c":10.4},{"s":"U1","t":675,"c":10.5},{"s":"U1","t":677,"c":10.45},{"s":"U1","t":679,"c":10.6},{"s":"U1","t":681,"c":10.55},{"s":"U1","t":683,"c":10.75},{"s":"U1","t":685,"c":10.8},{"s":"U1","t":687,"c":11.25},{"s":"U1","t":689,"c":11.3},{"s":"U1","t":691,"c":11.05},{"s":"U1","t":693,"c":10.6},{"s":"U1","t":695,"c":10.35},{"s":"U1","t":697,"c":10.5},{"s":"U1","t":699,"c":10.75},{"s":"U1","t":701,"c":10.7},{"s":"U1","t":703,"c":10.65},{"s":"U1","t":705,"c":10.35},{"s":"U1","t":707,"c":10.7},{"s":"U1","t":709,"c":10.85},{"s":"U1","t":711,"c":10.8},{"s":"U1","t":713,"c":10.6},{"s":"U1","t":715,"c":10.85},
 {"s":"U2","t":655,"c":10.6},{"s":"U2","t":657,"c":11.3},{"s":"U2","t":659,"c":11.95},{"s":"U2","t":661,"c":11.7},{"s":"U2","t":663,"c":11.3},{"s":"U2","t":665,"c":11.05},{"s":"U2","t":667,"c":11.0},{"s":"U2","t":669,"c":10.9},{"s":"U2","t":671,"c":10.95},{"s":"U2","t":673,"c":10.9},{"s":"U2","t":675,"c":11.05},{"s":"U2","t":677,"c":10.95},{"s":"U2","t":679,"c":11.05},{"s":"U2","t":681,"c":11.0},{"s":"U2","t":683,"c":11.2},{"s":"U2","t":685,"c":11.25},{"s":"U2","t":687,"c":11.65},{"s":"U2","t":689,"c":11.75},{"s":"U2","t":691,"c":11.4},{"s":"U2","t":693,"c":11.05},{"s":"U2","t":695,"c":10.75},{"s":"U2","t":697,"c":11.05},{"s":"U2","t":699,"c":11.35},{"s":"U2","t":701,"c":11.25},{"s":"U2","t":703,"c":11.15},{"s":"U2","t":705,"c":10.9},{"s":"U2","t":707,"c":11.25},{"s":"U2","t":709,"c":11.45},{"s":"U2","t":711,"c":11.3},{"s":"U2","t":713,"c":11.25},{"s":"U2","t":715,"c":11.45},
 {"s":"U3","t":655,"c":12.1},{"s":"U3","t":657,"c":12.6},{"s":"U3","t":659,"c":13.0},{"s":"U3","t":661,"c":13.1},{"s":"U3","t":663,"c":12.8},{"s":"U3","t":665,"c":12.55},{"s":"U3","t":667,"c":12.45},{"s":"U3","t":669,"c":12.35},{"s":"U3","t":671,"c":12.4},{"s":"U3","t":673,"c":12.3},{"s":"U3","t":675,"c":12.4},{"s":"U3","t":677,"c":12.35},{"s":"U3","t":679,"c":12.45},{"s":"U3","t":681,"c":12.25},{"s":"U3","t":683,"c":12.2},{"s":"U3","t":685,"c":12.1},{"s":"U3","t":687,"c":12.35},{"s":"U3","t":689,"c":12.5},{"s":"U3","t":691,"c":12.4},{"s":"U3","t":693,"c":12.1},{"s":"U3","t":695,"c":11.85},{"s":"U3","t":697,"c":11.7},{"s":"U3","t":699,"c":12.05},{"s":"U3","t":701,"c":12.3},{"s":"U3","t":703,"c":12.25},{"s":"U3","t":705,"c":12.0},{"s":"U3","t":707,"c":11.8},{"s":"U3","t":709,"c":12.2},{"s":"U3","t":711,"c":12.3},{"s":"U3","t":713,"c":12.35},{"s":"U3","t":715,"c":12.55},
 {"s":"U4","t":655,"c":12.3},{"s":"U4","t":657,"c":12.9},{"s":"U4","t":659,"c":13.4},{"s":"U4","t":661,"c":13.6},{"s":"U4","t":663,"c":13.3},{"s":"U4","t":665,"c":13.05},{"s":"U4","t":667,"c":12.9},{"s":"U4","t":669,"c":12.85},{"s":"U4","t":671,"c":12.8},{"s":"U4","t":673,"c":12.9},{"s":"U4","t":675,"c":12.85},{"s":"U4","t":677,"c":12.95},{"s":"U4","t":679,"c":12.8},{"s":"U4","t":681,"c":12.85},{"s":"U4","t":683,"c":12.9},{"s":"U4","t":685,"c":12.75},{"s":"U4","t":687,"c":13.1},{"s":"U4","t":689,"c":13.2},{"s":"U4","t":691,"c":13.0},{"s":"U4","t":693,"c":12.8},{"s":"U4","t":695,"c":12.5},{"s":"U4","t":697,"c":12.4},{"s":"U4","t":699,"c":12.85},{"s":"U4","t":701,"c":13.0},{"s":"U4","t":703,"c":13.1},{"s":"U4","t":705,"c":12.75},{"s":"U4","t":707,"c":12.6},{"s":"U4","t":709,"c":12.95},{"s":"U4","t":711,"c":13.15},{"s":"U4","t":713,"c":13.0},{"s":"U4","t":715,"c":13.3},
 {"s":"U5","t":655,"c":13.8},{"s":"U5","t":657,"c":14.2},{"s":"U5","t":659,"c":14.65},{"s":"U5","t":660,"c":14.95},{"s":"U5","t":662,"c":14.55},{"s":"U5","t":664,"c":14.15},{"s":"U5","t":666,"c":13.95},{"s":"U5","t":668,"c":13.85},{"s":"U5","t":670,"c":13.85},{"s":"U5","t":672,"c":13.95},{"s":"U5","t":674,"c":13.9},{"s":"U5","t":676,"c":14.05},{"s":"U5","t":678,"c":13.95},{"s":"U5","t":680,"c":13.9},{"s":"U5","t":682,"c":14.0},{"s":"U5","t":684,"c":14.0},{"s":"U5","t":686,"c":14.05},{"s":"U5","t":688,"c":14.2},{"s":"U5","t":690,"c":14.3},{"s":"U5","t":692,"c":14.0},{"s":"U5","t":694,"c":13.7},{"s":"U5","t":696,"c":13.4},{"s":"U5","t":698,"c":13.45},{"s":"U5","t":700,"c":13.9},{"s":"U5","t":702,"c":14.0},{"s":"U5","t":704,"c":13.8},{"s":"U5","t":706,"c":13.45},{"s":"U5","t":708,"c":13.75},{"s":"U5","t":710,"c":14.0},{"s":"U5","t":712,"c":13.75},{"s":"U5","t":714,"c":14.0},{"s":"U5","t":715,"c":14.15},
 {"s":"U6","t":655,"c":14.0},{"s":"U6","t":657,"c":14.5},{"s":"U6","t":659,"c":14.8},{"s":"U6","t":661,"c":14.65},{"s":"U6","t":663,"c":14.3},{"s":"U6","t":665,"c":14.05},{"s":"U6","t":667,"c":13.9},{"s":"U6","t":669,"c":13.95},{"s":"U6","t":671,"c":14.05},{"s":"U6","t":673,"c":14.0},{"s":"U6","t":675,"c":14.1},{"s":"U6","t":677,"c":14.05},{"s":"U6","t":679,"c":14.15},{"s":"U6","t":681,"c":14.1},{"s":"U6","t":683,"c":13.95},{"s":"U6","t":685,"c":13.9},{"s":"U6","t":687,"c":14.1},{"s":"U6","t":689,"c":14.25},{"s":"U6","t":691,"c":14.2},{"s":"U6","t":693,"c":14.05},{"s":"U6","t":695,"c":13.85},{"s":"U6","t":697,"c":13.95},{"s":"U6","t":699,"c":14.0},{"s":"U6","t":701,"c":14.1},{"s":"U6","t":703,"c":14.05},{"s":"U6","t":705,"c":13.9},{"s":"U6","t":707,"c":14.0},{"s":"U6","t":709,"c":14.1},{"s":"U6","t":711,"c":14.05},{"s":"U6","t":713,"c":14.1},{"s":"U6","t":715,"c":14.2}
]
},
"hconcat": [
 {
  "width": 435, "height": 249,
  "layer": [
   {"layer": [
     {"data": {"name": "lb"}, "mark": {"type": "line", "color": "#aeb0ea", "strokeWidth": 3, "opacity": 0.4, "clip": true},
      "encoding": {
       "x": {"field": "t", "type": "quantitative", "scale": {"domain": [289, 349], "nice": false, "zero": false}, "axis": {"values": [289,295,300,305,310,315,320,325,330,335,340,345,349], "title": "Time (in second)", "titlePadding": 6}},
       "y": {"field": "c", "type": "quantitative", "scale": {"domain": [0, 15], "reverse": true, "nice": false, "zero": false}, "axis": {"values": [0,2,4,6,8,10,12,14,15], "title": "Channel number", "titlePadding": 11}},
       "detail": {"field": "s"}}},
     {"data": {"name": "lr"}, "mark": {"type": "line", "color": "#e35f32", "strokeWidth": 1.15, "opacity": 0.85, "clip": true},
      "encoding": {
       "x": {"field": "t", "type": "quantitative", "axis": {"values": [289,295,300,305,310,315,320,325,330,335,340,345,349], "title": "Time (in second)", "titlePadding": 6}},
       "y": {"field": "c", "type": "quantitative", "axis": {"values": [0,2,4,6,8,10,12,14,15], "title": "Channel number", "titlePadding": 11}},
       "detail": {"field": "s"}}},
     {"data": {"name": "lb"}, "mark": {"type": "line", "color": "#3a3ac4", "strokeWidth": 1.0, "clip": true},
      "encoding": {
       "x": {"field": "t", "type": "quantitative", "axis": {"values": [289,295,300,305,310,315,320,325,330,335,340,345,349], "title": "Time (in second)", "titlePadding": 6}},
       "y": {"field": "c", "type": "quantitative", "axis": {"values": [0,2,4,6,8,10,12,14,15], "title": "Channel number", "titlePadding": 11}},
       "detail": {"field": "s"}}},
     {"data": {"name": "ld"}, "mark": {"type": "rule", "color": "#444444", "strokeDash": [2, 2], "strokeWidth": 1},
      "encoding": {"x": {"field": "t", "type": "quantitative", "axis": {"values": [289,295,300,305,310,315,320,325,330,335,340,345,349], "title": "Time (in second)", "titlePadding": 6}}}},
     {"data": {"name": "la"}, "mark": {"type": "rule", "color": "#000000", "strokeWidth": 3.5},
      "encoding": {
       "x": {"field": "t1", "type": "quantitative", "axis": {"values": [289,295,300,305,310,315,320,325,330,335,340,345,349], "title": "Time (in second)", "titlePadding": 6}},
       "y": {"field": "c1", "type": "quantitative", "axis": {"values": [0,2,4,6,8,10,12,14,15], "title": "Channel number", "titlePadding": 11}},
       "x2": {"field": "t2"}, "y2": {"field": "c2"}}},
     {"data": {"name": "la"}, "mark": {"type": "point", "shape": "triangle-up", "filled": true, "color": "#000000", "opacity": 1, "size": 110, "angle": 317},
      "encoding": {
       "x": {"field": "t2", "type": "quantitative", "axis": {"values": [289,295,300,305,310,315,320,325,330,335,340,345,349], "title": "Time (in second)", "titlePadding": 6}},
       "y": {"field": "c2", "type": "quantitative", "axis": {"values": [0,2,4,6,8,10,12,14,15], "title": "Channel number", "titlePadding": 11}}}}
   ]},
   {"data": {"name": "lf"}, "mark": {"type": "point", "opacity": 0},
    "encoding": {"x": {"field": "f", "type": "quantitative", "scale": {"domain": [1808, 2183], "nice": false, "zero": false}, "axis": {"orient": "top", "format": "d", "values": [1808,1850,1875,1900,1925,1950,1975,2000,2025,2050,2075,2100,2125,2150,2183], "title": "Time (in frame)", "titlePadding": 8}}}}
  ],
  "resolve": {"scale": {"x": "independent"}, "axis": {"x": "independent"}}
 },
 {
  "width": 440, "height": 249,
  "layer": [
   {"layer": [
     {"data": {"name": "rb"}, "mark": {"type": "line", "color": "#aeb0ea", "strokeWidth": 3, "opacity": 0.35, "clip": true},
      "encoding": {
       "x": {"field": "t", "type": "quantitative", "scale": {"domain": [655, 715], "nice": false, "zero": false}, "axis": {"values": [655,660,665,670,675,680,685,690,695,700,705,710,715], "title": "Time (in second)", "titlePadding": 6}},
       "y": {"field": "c", "type": "quantitative", "scale": {"domain": [0, 15], "reverse": true, "nice": false, "zero": false}, "axis": {"values": [0,2,4,6,8,10,12,14,15], "title": null}},
       "detail": {"field": "s"}}},
     {"data": {"name": "rr"}, "mark": {"type": "line", "color": "#e35f32", "strokeWidth": 1.15, "opacity": 0.85, "clip": true},
      "encoding": {
       "x": {"field": "t", "type": "quantitative", "axis": {"values": [655,660,665,670,675,680,685,690,695,700,705,710,715], "title": "Time (in second)", "titlePadding": 6}},
       "y": {"field": "c", "type": "quantitative", "axis": {"values": [0,2,4,6,8,10,12,14,15], "title": null}},
       "detail": {"field": "s"}}},
     {"data": {"name": "rb"}, "mark": {"type": "line", "color": "#3434c2", "strokeWidth": 1.0, "clip": true},
      "encoding": {
       "x": {"field": "t", "type": "quantitative", "axis": {"values": [655,660,665,670,675,680,685,690,695,700,705,710,715], "title": "Time (in second)", "titlePadding": 6}},
       "y": {"field": "c", "type": "quantitative", "axis": {"values": [0,2,4,6,8,10,12,14,15], "title": null}},
       "detail": {"field": "s"}}},
     {"data": {"name": "rd"}, "mark": {"type": "rule", "color": "#444444", "strokeDash": [2, 2], "strokeWidth": 1},
      "encoding": {"x": {"field": "t", "type": "quantitative", "axis": {"values": [655,660,665,670,675,680,685,690,695,700,705,710,715], "title": "Time (in second)", "titlePadding": 6}}}},
     {"data": {"name": "ra"}, "mark": {"type": "rule", "color": "#000000", "strokeWidth": 3.5},
      "encoding": {
       "x": {"field": "t1", "type": "quantitative", "axis": {"values": [655,660,665,670,675,680,685,690,695,700,705,710,715], "title": "Time (in second)", "titlePadding": 6}},
       "y": {"field": "c1", "type": "quantitative", "axis": {"values": [0,2,4,6,8,10,12,14,15], "title": null}},
       "x2": {"field": "t2"}, "y2": {"field": "c2"}}},
     {"data": {"name": "ra"}, "mark": {"type": "point", "shape": "triangle-up", "filled": true, "color": "#000000", "opacity": 1, "size": 110, "angle": 48},
      "encoding": {
       "x": {"field": "t2", "type": "quantitative", "axis": {"values": [655,660,665,670,675,680,685,690,695,700,705,710,715], "title": "Time (in second)", "titlePadding": 6}},
       "y": {"field": "c2", "type": "quantitative", "axis": {"values": [0,2,4,6,8,10,12,14,15], "title": null}}}}
   ]},
   {"data": {"name": "rf"}, "mark": {"type": "point", "opacity": 0},
    "encoding": {"x": {"field": "f", "type": "quantitative", "scale": {"domain": [4092, 4467], "nice": false, "zero": false}, "axis": {"orient": "top", "format": "d", "values": [4092,4125,4150,4175,4200,4225,4250,4275,4300,4325,4350,4375,4400,4425,4467], "title": "Time (in frame)", "titlePadding": 8}}}}
  ],
  "resolve": {"scale": {"x": "independent"}, "axis": {"x": "independent"}}
 }
]
}
